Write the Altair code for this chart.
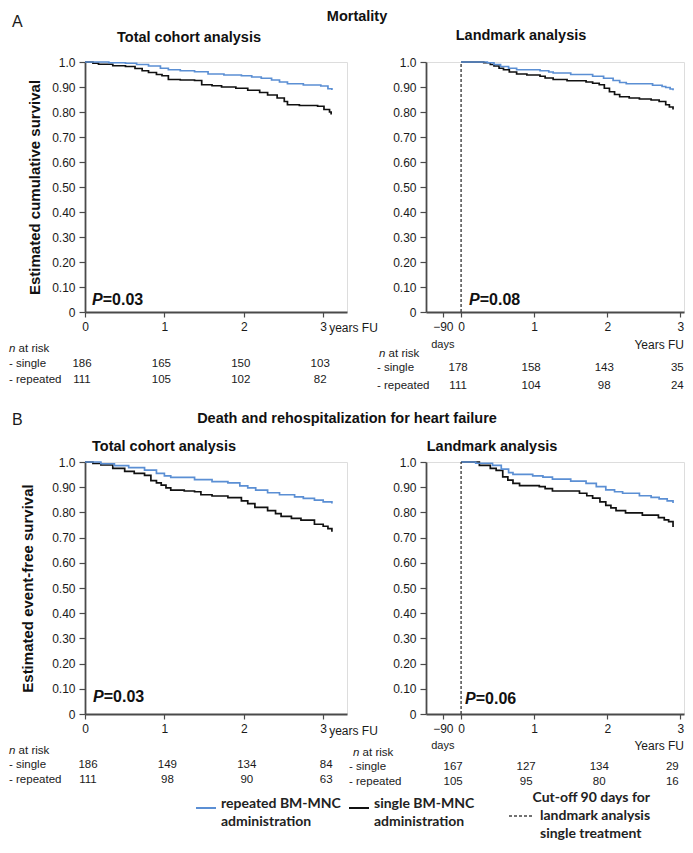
import altair as alt
import pandas as pd

BLUE = "#5b8fd4"
BLACK = "#111111"
AXC = "#4a4a4a"
FONT = "Liberation Sans"
NARROW = "'Liberation Sans Narrow', 'Arial Narrow', 'Liberation Sans', Arial, sans-serif"
LEG_FONT = "Lato"

# ---------------- survival curves (years, estimated survival) ----------------
# A - Mortality, total cohort
a_tot_single_t = [0, 0.10, 0.17, 0.35, 0.51, 0.63, 0.72, 0.80, 0.90, 0.97, 1.05, 1.20, 1.38, 1.47, 1.60,
                  1.72, 1.90, 2.05, 2.20, 2.30, 2.42, 2.51, 2.55, 2.70, 2.93, 3.01, 3.08, 3.10]
a_tot_single_s = [1.0, 0.995, 0.991, 0.985, 0.982, 0.974, 0.965, 0.958, 0.950, 0.945, 0.930, 0.928, 0.926, 0.909, 0.905,
                  0.900, 0.895, 0.887, 0.878, 0.868, 0.856, 0.842, 0.829, 0.826, 0.823, 0.810, 0.800, 0.790]
a_tot_rep_t = [0, 0.30, 0.51, 0.65, 0.80, 0.95, 1.05, 1.20, 1.38, 1.55, 1.75, 1.97, 2.10, 2.22, 2.35, 2.45,
               2.55, 2.75, 2.97, 3.06, 3.11]
a_tot_rep_s = [1.0, 0.997, 0.995, 0.990, 0.984, 0.975, 0.969, 0.965, 0.961, 0.952, 0.948, 0.945, 0.940, 0.935, 0.928, 0.920,
               0.913, 0.908, 0.904, 0.893, 0.888]
# A - Mortality, landmark
a_lm_single_t = [0, 0.31, 0.40, 0.45, 0.52, 0.58, 0.66, 0.76, 0.90, 1.08, 1.15, 1.26, 1.45, 1.71, 1.80, 1.89,
                 1.96, 2.03, 2.10, 2.17, 2.30, 2.44, 2.60, 2.71, 2.80, 2.85, 2.90]
a_lm_single_s = [1.0, 0.997, 0.990, 0.984, 0.975, 0.969, 0.960, 0.952, 0.948, 0.943, 0.936, 0.930, 0.925, 0.920, 0.915, 0.909,
                 0.895, 0.881, 0.870, 0.861, 0.856, 0.852, 0.848, 0.842, 0.829, 0.820, 0.810]
a_lm_rep_t = [0, 0.36, 0.45, 0.54, 0.65, 0.76, 1.08, 1.20, 1.26, 1.50, 1.80, 1.95, 2.08, 2.17, 2.26, 2.62,
              2.75, 2.80, 2.86, 2.90]
a_lm_rep_s = [1.0, 0.997, 0.990, 0.982, 0.975, 0.969, 0.965, 0.960, 0.956, 0.950, 0.943, 0.935, 0.926, 0.918, 0.913, 0.907,
              0.902, 0.898, 0.892, 0.887]
# B - Death and rehospitalization, total cohort
b_tot_single_t = [0, 0.10, 0.20, 0.35, 0.50, 0.62, 0.75, 0.83, 0.90, 0.96, 1.02, 1.08, 1.25, 1.38, 1.46, 1.60,
                  1.80, 1.97, 2.05, 2.14, 2.30, 2.40, 2.47, 2.60, 2.72, 2.89, 3.00, 3.06, 3.11]
b_tot_single_s = [1.0, 0.994, 0.988, 0.975, 0.963, 0.955, 0.947, 0.926, 0.917, 0.908, 0.897, 0.888, 0.885, 0.882, 0.870, 0.865,
                  0.859, 0.846, 0.835, 0.820, 0.807, 0.795, 0.784, 0.776, 0.769, 0.753, 0.745, 0.736, 0.723]
b_tot_rep_t = [0, 0.20, 0.37, 0.55, 0.75, 0.90, 1.00, 1.08, 1.38, 1.60, 1.80, 1.95, 2.05, 2.15, 2.30, 2.45,
               2.64, 2.75, 2.89, 3.00, 3.11]
b_tot_rep_s = [1.0, 0.993, 0.986, 0.978, 0.968, 0.955, 0.945, 0.939, 0.930, 0.922, 0.917, 0.905, 0.897, 0.888, 0.878, 0.870,
               0.862, 0.856, 0.849, 0.842, 0.835]
# B - Death and rehospitalization, landmark
b_lm_single_t = [0, 0.25, 0.40, 0.48, 0.57, 0.64, 0.71, 0.80, 1.07, 1.15, 1.25, 1.62, 1.72, 1.80, 1.90, 1.98,
                 2.05, 2.12, 2.25, 2.48, 2.70, 2.78, 2.84, 2.90]
b_lm_single_s = [1.0, 0.987, 0.975, 0.967, 0.941, 0.928, 0.915, 0.906, 0.902, 0.894, 0.885, 0.876, 0.866, 0.857, 0.842, 0.828,
                 0.818, 0.807, 0.798, 0.789, 0.779, 0.770, 0.763, 0.742]
b_lm_rep_t = [0, 0.20, 0.43, 0.55, 0.65, 0.71, 0.98, 1.12, 1.25, 1.50, 1.71, 1.85, 1.98, 2.10, 2.21, 2.44,
              2.60, 2.71, 2.82, 2.90]
b_lm_rep_s = [1.0, 0.995, 0.987, 0.972, 0.958, 0.951, 0.945, 0.940, 0.932, 0.924, 0.915, 0.902, 0.889, 0.882, 0.876, 0.866,
              0.860, 0.854, 0.846, 0.837]

# ---------------- numbers at risk ----------------
risk_times = [0, 1, 2, 3]
a_tot_risk_single = [186, 165, 150, 103]
a_tot_risk_rep = [111, 105, 102, 82]
a_lm_risk_single = [178, 158, 143, 35]
a_lm_risk_rep = [111, 104, 98, 24]
b_tot_risk_single = [186, 149, 134, 84]
b_tot_risk_rep = [111, 98, 90, 63]
b_lm_risk_single = [167, 127, 134, 29]
b_lm_risk_rep = [105, 95, 80, 16]

groups = ["repeated", "single"]
group_colors = [BLUE, BLACK]
y_ticks = [0, 0.1, 0.2, 0.3, 0.4, 0.5, 0.6, 0.7, 0.8, 0.9, 1.0]

TOT_W, LM_W = 262, 258
COL_GAP = 79
A_H, B_H = 250, 252

legend_groups = alt.Legend(
    orient="none", legendX=110, legendY=735, direction="horizontal", columns=2,
    gridAlign="all", columnPadding=4, title=None, padding=0,
    symbolType="stroke", symbolSize=400, symbolStrokeWidth=2,
    labelFont=LEG_FONT, labelFontSize=14, labelFontWeight="bold", labelColor="#222222",
    labelOffset=4, labelLimit=300, labelBaseline="alphabetic",
    labelExpr=("datum.label == 'repeated' ? ['repeated BM-MNC', 'administration'] : "
               "['single BM-MNC', 'administration']"),
)
legend_cut = alt.Legend(
    orient="none", legendX=423, legendY=729, padding=0,
    title="Cut-off 90 days for", titleFont=LEG_FONT, titleFontSize=14, titleFontWeight="bold",
    titleColor="#222222", titleAnchor="end", titleAlign="right", titlePadding=-2, titleLimit=300,
    symbolType="stroke", symbolSize=576, symbolStrokeWidth=1.3, symbolStrokeColor="#444444",
    labelFont=LEG_FONT, labelFontSize=14, labelFontWeight="bold", labelColor="#222222",
    labelOffset=6, labelLimit=300, labelBaseline="middle",
    labelExpr="['landmark analysis', 'single treatment']",
)
color_enc = alt.Color("group:N", scale=alt.Scale(domain=groups, range=group_colors), legend=legend_groups)
dash_enc = alt.StrokeDash("kind:N", scale=alt.Scale(domain=["cutoff"], range=[[3, 2]]), legend=legend_cut)

axis_common = dict(grid=False, domainColor=AXC, domainWidth=1.8, tickColor=AXC, tickWidth=1.2,
                   labelFont=NARROW, labelFontSize=12, labelColor="#1a1a1a", labelFlush=False,
                   labelOverlap=False)


def txt(text, x, y, size=11.5, weight="normal", style="normal", align="left", font=FONT, color="#1a1a1a"):
    return alt.Chart(pd.DataFrame({"v": [text]})).mark_text(
        align=align, baseline="middle", fontSize=size, fontWeight=weight, fontStyle=style,
        font=font, color=color
    ).encode(text="v:N", x=alt.value(x), y=alt.value(y))


def panel(ts, ss, tr, sr, risk_s, risk_r, landmark, width, height, ytitle, title_x, pval, p_x, p_y,
          lab_x, nrisk_x, ry, dx, extra):
    df = pd.concat([
        pd.DataFrame({"t": ts, "s": ss, "group": "single"}),
        pd.DataFrame({"t": tr, "s": sr, "group": "repeated"}),
    ])
    if landmark:
        xs = alt.Scale(domain=[-0.48, 3.05], nice=False, zero=False)
        xaxis = alt.Axis(values=[-0.25, 0, 1, 2, 3], tickSize=5, labelPadding=4, title=None,
                         labelExpr="datum.value < 0 ? '\u221290' : format(datum.value, 'd')", **axis_common)
    else:
        xs = alt.Scale(domain=[0, 3.3], nice=False, zero=False)
        xaxis = alt.Axis(values=[0, 1, 2, 3], tickSize=5, labelPadding=4, title=None,
                         labelExpr="format(datum.value, 'd')", **axis_common)
    ys = alt.Scale(domain=[0, 1], nice=False, zero=True)
    ylab = "datum.value == 0 ? '0' : datum.value == 1 ? '1.0' : format(datum.value, '.2f')"
    if ytitle:
        yaxis = alt.Axis(values=y_ticks, tickSize=6, labelPadding=4, title=ytitle,
                         titleFont=FONT, titleFontSize=15, titleFontWeight="bold", titleColor="#111111",
                         titleX=title_x, titleY=height / 2, titleAngle=270, titleAlign="center",
                         titleBaseline="middle", labelExpr=ylab, **axis_common)
    else:
        yaxis = alt.Axis(values=y_ticks, tickSize=6, labelPadding=4, title=None, labelExpr=ylab,
                         **axis_common)
    xenc = alt.X("t:Q", scale=xs, axis=xaxis)
    yenc = alt.Y("s:Q", scale=ys, axis=yaxis)

    lines = alt.Chart(df).mark_line(interpolate="step-after", strokeWidth=1.7).encode(
        x=xenc, y=yenc, color=color_enc)
    layers = [lines]
    if landmark:
        cut = alt.Chart(pd.DataFrame({"t": [0], "s": [0.0], "s2": [1.0], "kind": ["cutoff"]})).mark_rule(
            strokeWidth=1.3, color="#333333").encode(x=xenc, y=yenc, y2="s2:Q", strokeDash=dash_enc)
        layers.append(cut)

    # numbers at risk
    for vals, yy in ((risk_s, ry[1]), (risk_r, ry[2])):
        layers.append(alt.Chart(pd.DataFrame({"t": risk_times, "n": vals})).mark_text(
            align="center", baseline="middle", fontSize=11.5, font=FONT, color="#1a1a1a", dx=dx
        ).encode(x=xenc, text="n:Q", y=alt.value(yy)))
    layers.append(txt("n", nrisk_x, ry[0], style="italic"))
    layers.append(txt("at risk", nrisk_x + 9.6, ry[0]))
    layers.append(txt("- single", lab_x, ry[1]))
    layers.append(txt("- repeated", lab_x, ry[2]))

    # P value
    layers.append(txt("P", p_x, p_y, size=16, weight="bold", style="italic", color="#111111"))
    layers.append(txt("=" + pval, p_x + 10.7, p_y, size=16, weight="bold", color="#111111"))

    layers.extend(extra)
    return alt.layer(*layers).properties(width=width, height=height)


def xlabel_extra(t, text, y, align, dx, domain, size):
    return alt.Chart(pd.DataFrame({"t": [t], "v": [text]})).mark_text(
        align=align, baseline="middle", fontSize=size, font=NARROW, color="#1a1a1a", dx=dx
    ).encode(x=alt.X("t:Q", scale=alt.Scale(domain=domain, nice=False, zero=False)),
             text="v:N", y=alt.value(y))


# ---------------- panels ----------------
a_left = panel(
    a_tot_single_t, a_tot_single_s, a_tot_rep_t, a_tot_rep_s, a_tot_risk_single, a_tot_risk_rep,
    False, TOT_W, A_H, "Estimated cumulative survival", -51, "0.03", 7, A_H - 12,
    -76, -76, (A_H + 37, A_H + 52, A_H + 68), -3,
    [
        txt("A", -73, -40, size=16),
        txt("Mortality", 272, -45, size=14.5, weight="bold", align="center", color="#111111"),
        txt("Total cohort analysis", 104, -24, size=14.5, weight="bold", align="center", color="#111111"),
        xlabel_extra(3, "years FU", A_H + 16, "left", 6, [0, 3.3], 12),
    ],
)

a_right = panel(
    a_lm_single_t, a_lm_single_s, a_lm_rep_t, a_lm_rep_s, a_lm_risk_single, a_lm_risk_rep,
    True, LM_W, A_H, None, 0, "0.08", 43, A_H - 12,
    -49, -47, (A_H + 42, A_H + 56, A_H + 74), -3,
    [
        txt("Landmark analysis", 95, -26, size=14.5, weight="bold", align="center", color="#111111"),
        xlabel_extra(-0.25, "days", A_H + 33, "center", 0, [-0.48, 3.05], 11),
        txt("Years FU", LM_W, A_H + 33, size=12, align="right", font=NARROW),
    ],
)

b_left = panel(
    b_tot_single_t, b_tot_single_s, b_tot_rep_t, b_tot_rep_s, b_tot_risk_single, b_tot_risk_rep,
    False, TOT_W, B_H, "Estimated event-free survival", -58, "0.03", 8, B_H - 17,
    -76, -76, (B_H + 37, B_H + 51, B_H + 66), 3,
    [
        txt("B", -73, -42, size=16),
        txt("Death and rehospitalization for heart failure", 262, -43, size=14.5, weight="bold",
            align="center", color="#111111"),
        txt("Total cohort analysis", 79, -15, size=14.5, weight="bold", align="center", color="#111111"),
        xlabel_extra(3, "years FU", B_H + 17, "left", 6, [0, 3.3], 12),
    ],
)

b_right = panel(
    b_lm_single_t, b_lm_single_s, b_lm_rep_t, b_lm_rep_s, b_lm_risk_single, b_lm_risk_rep,
    True, LM_W, B_H, None, 0, "0.06", 39, B_H - 15,
    -77, -73, (B_H + 39, B_H + 53, B_H + 68), -8,
    [
        txt("Landmark analysis", 66, -15, size=14.5, weight="bold", align="center", color="#111111"),
        xlabel_extra(-0.25, "days", B_H + 32, "center", 0, [-0.48, 3.05], 11),
        txt("Years FU", LM_W, B_H + 32, size=12, align="right", font=NARROW),
    ],
)

chart = alt.concat(
    a_left, a_right, b_left, b_right, columns=2,
    spacing={"row": 150, "column": COL_GAP}, bounds="flush",
).properties(padding=0, background="white").configure_view(stroke=None).configure(
    style={"guide-label": {"lineHeight": 18}}
)

chart.save("out.html", embed_options={"renderer": "svg", "actions": False})
